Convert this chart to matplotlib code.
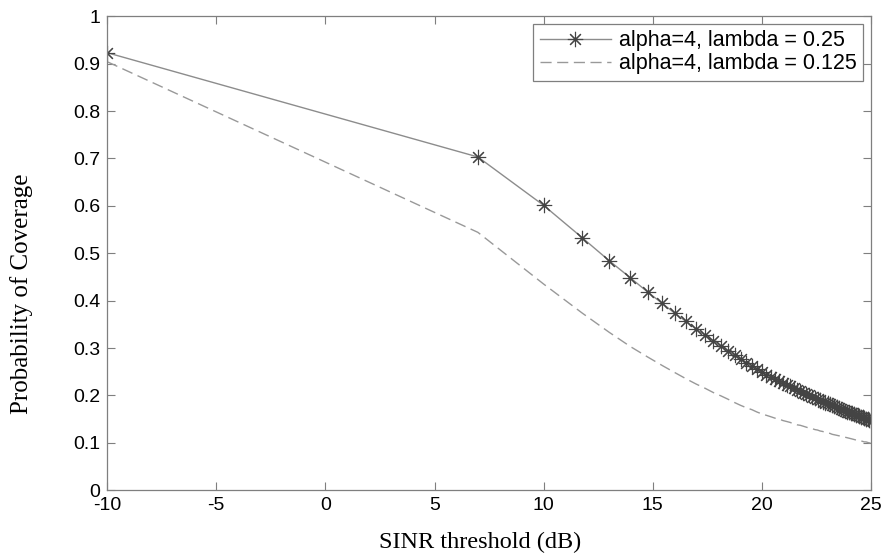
import numpy as np
import matplotlib
matplotlib.use("Agg")
import matplotlib.pyplot as plt

# SINR thresholds (linear) used for both curves
sinr_linear = [0.1, 5, 10, 15, 20, 25, 30, 35, 40, 45, 50, 55, 60, 65, 70,
               75, 80, 85, 90, 95, 100, 105, 110, 115, 120, 125, 130, 135,
               140, 145, 150, 155, 160, 165, 170, 175, 180, 185, 190, 195,
               200, 205, 210, 215, 220, 225, 230, 235, 240, 245, 250, 255,
               260, 265, 270, 275, 280, 285, 290, 295, 300, 305, 310, 315]

cov_lambda_025 = [0.923, 0.703, 0.601, 0.533, 0.484, 0.448, 0.418, 0.394,
                  0.373, 0.356, 0.340, 0.327, 0.315, 0.304, 0.294, 0.285,
                  0.276, 0.269, 0.262, 0.255, 0.249, 0.244, 0.239, 0.234,
                  0.230, 0.226, 0.222, 0.219, 0.215, 0.212, 0.209, 0.206,
                  0.203, 0.200, 0.197, 0.195, 0.192, 0.190, 0.187, 0.185,
                  0.183, 0.181, 0.179, 0.177, 0.175, 0.173, 0.171, 0.170,
                  0.168, 0.166, 0.165, 0.163, 0.162, 0.160, 0.159, 0.158,
                  0.156, 0.155, 0.154, 0.152, 0.151, 0.150, 0.149, 0.147]

cov_lambda_0125 = [0.904, 0.544, 0.435, 0.374, 0.333, 0.303, 0.281, 0.263,
                   0.248, 0.235, 0.224, 0.215, 0.206, 0.199, 0.192, 0.185,
                   0.179, 0.174, 0.170, 0.165, 0.161, 0.158, 0.155, 0.152,
                   0.150, 0.147, 0.145, 0.143, 0.140, 0.138, 0.137, 0.135,
                   0.133, 0.131, 0.130, 0.128, 0.127, 0.125, 0.124, 0.122,
                   0.121, 0.120, 0.118, 0.117, 0.116, 0.115, 0.114, 0.113,
                   0.112, 0.111, 0.110, 0.109, 0.108, 0.107, 0.106, 0.106,
                   0.105, 0.104, 0.103, 0.102, 0.102, 0.101, 0.100, 0.0996]

labels = ["alpha=4, lambda = 0.25", "alpha=4, lambda = 0.125"]
x_tick_labels = ["-10", "-5", "0", "5", "10", "15", "20", "25"]
y_tick_labels = ["0", "0.1", "0.2", "0.3", "0.4", "0.5", "0.6",
                 "0.7", "0.8", "0.9", "1"]

x_db = 10 * np.log10(np.array(sinr_linear))

fig = plt.figure(figsize=(8.86, 5.59), dpi=100)
ax = fig.add_axes([0.121, 0.123, 0.862, 0.848])

ax.plot(x_db, cov_lambda_025, color="#8c8c8c", linewidth=1.0,
        marker=(8, 2, 0), markersize=11, markeredgecolor="#444444",
        markeredgewidth=0.8, label=labels[0])
ax.plot(x_db, cov_lambda_0125, color="#999999", linewidth=1.0,
        linestyle=(0, (8, 4)), label=labels[1])

ax.set_xlim(-10, 25)
ax.set_ylim(0, 1)
ax.set_xticks(np.arange(-10, 26, 5))
ax.set_xticklabels(x_tick_labels)
ax.set_yticks(np.arange(0, 1.01, 0.1))
ax.set_yticklabels(y_tick_labels)

for spine in ax.spines.values():
    spine.set_color("#7f7f7f")
    spine.set_linewidth(0.9)

ax.tick_params(direction="in", top=True, right=True, length=6,
               color="#7f7f7f", labelsize=14, pad=5)
for lbl in ax.get_xticklabels() + ax.get_yticklabels():
    lbl.set_family("Liberation Sans")

ax.set_xlabel("SINR threshold (dB)", family="Liberation Serif", fontsize=17.5)
ax.set_ylabel("Probability of Coverage", family="Liberation Serif", fontsize=18)
ax.xaxis.set_label_coords(0.488, -0.088)
ax.yaxis.set_label_coords(-0.097, 0.415)

leg = ax.legend(loc="upper right", prop={"family": "Liberation Sans", "size": 15.5},
                fancybox=False, framealpha=1, edgecolor="#7f7f7f",
                borderaxespad=0.35, handlelength=3.3, handletextpad=0.4,
                labelspacing=0.1, borderpad=0.3)
leg.get_frame().set_linewidth(0.9)

fig.savefig("out.png", dpi=100)
